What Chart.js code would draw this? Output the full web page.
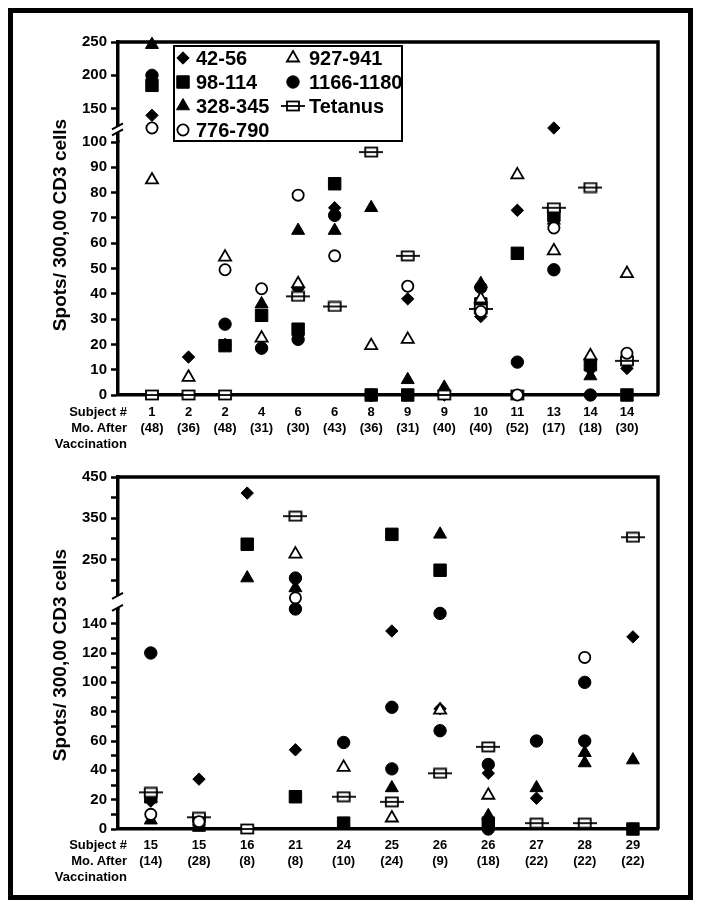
<!DOCTYPE html>
<html lang="en">
<head>
<meta charset="UTF-8" />
<title>Spots per 300,000 CD3 cells</title>
<script src="https://cdn.jsdelivr.net/npm/chart.js"></script>
<style>
  body { margin: 0; background: #fff; }
  #page { position: relative; width: 703px; height: 909px; font-family: "Liberation Sans", Arial, sans-serif; font-weight: bold; color: #000; }
  canvas.plot { position: absolute; left: 0; }
  .frame { position: absolute; left: 8px; top: 8px; width: 685px; height: 892px; border: 5px solid #000; box-sizing: border-box; pointer-events: none; }
  .ytitle { position: absolute; left: 60px; font-size: 19px; white-space: nowrap; transform: translate(-50%, -50%) rotate(-90deg); }
  .rowlab { position: absolute; right: 576px; font-size: 13px; line-height: 16px; text-align: right; white-space: nowrap; }
  .legend { position: absolute; left: 173px; top: 45px; width: 230px; height: 97px; border: 2px solid #000; box-sizing: border-box; }
  .lgtext { position: absolute; font-size: 20px; line-height: 24px; white-space: nowrap; }
  .lgmark { position: absolute; }
</style>
</head>
<body>
<div id="page">
  <canvas id="chartTop" class="plot" width="703" height="455" style="top:0; width:703px; height:455px;"></canvas>
  <canvas id="chartBot" class="plot" width="703" height="455" style="top:445px; width:703px; height:455px;"></canvas>

  <div class="ytitle" style="top:225px;">Spots/ 300,00 CD3 cells</div>
  <div class="ytitle" style="top:655px;">Spots/ 300,00 CD3 cells</div>

  <div class="rowlab" style="top:404px;">Subject #<br>Mo. After<br>Vaccination</div>
  <div class="rowlab" style="top:837px;">Subject #<br>Mo. After<br>Vaccination</div>

  <div class="legend"></div>
  <div id="legendItems"></div>

  <div class="frame"></div>
</div>

<script>
  // ---------- upper panel ----------
  const subjTop   = ['1', '2', '2', '4', '6', '6', '8', '9', '9', '10', '11', '13', '14', '14'];
  const monthsTop = ['48', '36', '48', '31', '30', '43', '36', '31', '40', '40', '52', '17', '18', '30'];
  const top42_56     = [140, 15,   20,   null, 42,  74,   null, 38,   0,    31,   73,   121,  10,   10.5];
  const top98_114    = [185, null, 19.5, 31.5, 26,  83.5, 0,    0,    null, 36,   56,   71,   12,   0];
  const top328_345   = [246, null, null, 36,   65,  65,   74,   6,    3,    44,   null, 69,   7.5,  null];
  const top776_790   = [121, null, 49.5, 42,   79,  55,   null, 43,   null, 33,   0,    66,   null, 16.5];
  const top927_941   = [85,  7,    54.5, 22.5, 44,  null, 19.5, 22,   null, 38,   87,   57,   15.5, 48];
  const top1166_1180 = [200, null, 28,   18.5, 22,  71,   0,    null, null, 42.5, 13,   49.5, 0,    null];
  const topTetanus   = [0,   0,    0,    null, 39,  35,   96,   55,   0,    34,   0,    74,   82,   13.5];

  // ---------- lower panel ----------
  const subjBot   = ['15', '15', '16', '21', '24', '25', '26', '26', '27', '28', '29'];
  const monthsBot = ['14', '28', '8', '8', '10', '24', '9', '18', '22', '22', '22'];
  const bot42_56     = [19,   34,   411,  54,   null, 135,  82,   38,   21,   null, 131];
  const bot98_114    = [22,   null, 287,  22,   4,    311,  224,  4,    null, null, 0];
  const bot328_345   = [6,    1,    205,  181,  null, 28,   311,  9,    28,   52,   47];
  const bot776_790   = [10,   5,    null, 157,  null, null, null, null, null, 117,  null];
  const bot927_941   = [null, null, null, 263,  42,   7.5,  81,   23,   null, null, null];
  const bot1166_1180 = [120,  3,    null, 205,  59,   83,   147,  44,   60,   100,  null];
  const botTetanus   = [25,   8,    0,    355,  22,   18.5, 38,   56,   4,    4,    304];
  // second filled circle / filled triangle seen in some columns (not in the legend)
  const botCircle2   = [null, null, null, 150,  null, 41,   67,   0,    null, 60,   null];
  const botTriangle2 = [null, null, null, null, null, null, null, null, null, 45,   null];

  const FONT = '"Liberation Sans", Arial, sans-serif';

  // open square with a bar through it, used for Tetanus
  const tetanusMark = document.createElement('canvas');
  tetanusMark.width = 24;
  tetanusMark.height = 12;
  (function () {
    const c = tetanusMark.getContext('2d');
    c.fillStyle = '#fff';
    c.fillRect(6, 1.5, 12, 9);
    c.strokeStyle = '#000';
    c.lineWidth = 1.8;
    c.strokeRect(6, 1.5, 12, 9);
    c.beginPath();
    c.moveTo(0, 6);
    c.lineTo(24, 6);
    c.stroke();
  })();

  const marks = {
    '42-56':     { style: 'rectRot',  r: 6.2, fill: '#000', bw: 1,   order: 6 },
    '98-114':    { style: 'rect',     r: 8.8, fill: '#000', bw: 1,   order: 5 },
    '328-345':   { style: 'triangle', r: 7.5, fill: '#000', bw: 1,   order: 4 },
    '776-790':   { style: 'circle',   r: 5.6, fill: '#fff', bw: 1.8, order: 0 },
    '927-941':   { style: 'triangle', r: 7,   fill: '#fff', bw: 1.8, order: 2 },
    '1166-1180': { style: 'circle',   r: 6.2, fill: '#000', bw: 1,   order: 3 },
    'Tetanus':   { style: tetanusMark, r: 8,  fill: '#fff', bw: 0,   order: 1 }
  };

  const topSeries = [
    ['42-56', top42_56], ['98-114', top98_114], ['328-345', top328_345], ['776-790', top776_790],
    ['927-941', top927_941], ['1166-1180', top1166_1180], ['Tetanus', topTetanus]
  ];
  const botSeries = [
    ['42-56', bot42_56], ['98-114', bot98_114], ['328-345', bot328_345], ['776-790', bot776_790],
    ['927-941', bot927_941], ['1166-1180', bot1166_1180], ['Tetanus', botTetanus],
    ['1166-1180', botCircle2], ['328-345', botTriangle2]
  ];

  // values above the break go on the upper part of the y axis
  function buildSets(series, brk) {
    const sets = [];
    series.forEach(([key, vals]) => {
      const m = marks[key];
      const lo = [], hi = [];
      vals.forEach((v, i) => {
        if (v === null) return;
        (v > brk ? hi : lo).push({ x: i + 1, y: v });
      });
      [['yLo', lo], ['yHi', hi]].forEach(([axis, pts]) => {
        if (!pts.length) return;
        sets.push({
          label: key, data: pts, yAxisID: axis, order: m.order,
          pointStyle: m.style, pointRadius: m.r, pointHoverRadius: m.r,
          pointBackgroundColor: m.fill, pointBorderColor: '#000', pointBorderWidth: m.bw,
          showLine: false, clip: false
        });
      });
    });
    return sets;
  }

  function yScale(min, max, weight, tickVals, showLabel) {
    return {
      type: 'linear', position: 'left', stack: 'left', stackWeight: weight, min: min, max: max,
      afterBuildTicks: s => { s.ticks = tickVals.map(v => ({ value: v })); },
      afterFit: s => { s.width = 118; },
      ticks: {
        color: '#000', padding: 4, autoSkip: false,
        font: { family: FONT, size: 15, weight: 'bold' },
        callback: v => (showLabel(v) ? String(v) : '')
      },
      grid: { drawOnChartArea: false, drawTicks: true, tickLength: 7, tickWidth: 2.5, tickColor: '#000', color: '#000' },
      border: { display: true, width: 3.5, color: '#000' }
    };
  }

  const framePlugin = {
    id: 'plotFrame',
    beforeDatasetsDraw(chart) {
      const { ctx, chartArea: a } = chart;
      ctx.save();
      ctx.strokeStyle = '#000';
      ctx.lineWidth = 3.5;
      ctx.beginPath();
      ctx.moveTo(a.left, a.top);
      ctx.lineTo(a.right, a.top);
      ctx.lineTo(a.right, a.bottom);
      ctx.stroke();
      ctx.restore();
    }
  };

  const breakPlugin = {
    id: 'axisBreak',
    afterDraw(chart, args, opts) {
      const s = chart.scales.yHi;
      const ctx = chart.ctx;
      const x = s.right;
      const y = s.getPixelForValue(opts.value);
      const g = opts.gap / 2;
      ctx.save();
      ctx.fillStyle = '#fff';
      ctx.fillRect(x - 4, y - g, 8, 2 * g);
      ctx.strokeStyle = '#000';
      ctx.lineWidth = 2;
      ctx.beginPath();
      ctx.moveTo(x - 6, y - g + 3); ctx.lineTo(x + 5, y - g - 3);
      ctx.moveTo(x - 6, y + g + 3); ctx.lineTo(x + 5, y + g - 3);
      ctx.stroke();
      ctx.restore();
    }
  };

  function makeChart(id, p) {
    return new Chart(document.getElementById(id), {
      type: 'scatter',
      data: { datasets: buildSets(p.series, p.brk) },
      plugins: [framePlugin, breakPlugin],
      options: {
        responsive: false,
        animation: false,
        events: [],
        layout: { padding: { top: p.padTop, right: 45, left: 0, bottom: 0 } },
        plugins: {
          legend: { display: false },
          tooltip: { enabled: false },
          axisBreak: { value: p.breakAt, gap: p.gap }
        },
        scales: {
          x: {
            type: 'linear', min: p.xMin, max: p.xMax,
            afterBuildTicks: s => { s.ticks = p.subj.map((_, i) => ({ value: i + 1 })); },
            afterFit: s => { s.height = p.xHeight; },
            ticks: {
              color: '#000', padding: p.labelPad, maxRotation: 0, autoSkip: false,
              font: { family: FONT, size: 13, weight: 'bold', lineHeight: 16 / 13 },
              callback: v => {
                const i = Math.round(v) - 1;
                return [p.subj[i], '(' + p.months[i] + ')'];
              }
            },
            grid: { display: true, drawOnChartArea: false, drawTicks: false },
            border: { display: true, width: 3.5, color: '#000' }
          },
          yLo: p.yLo,
          yHi: p.yHi
        }
      }
    });
  }

  const range = (a, b, step) => { const r = []; for (let v = a; v <= b; v += step) r.push(v); return r; };

  makeChart('chartTop', {
    series: topSeries, subj: subjTop, months: monthsTop, brk: 100,
    xMin: 0.07, xMax: 14.85, padTop: 42, xHeight: 60, labelPad: 9,
    breakAt: 119, gap: 6,
    yLo: yScale(0, 100, 253, range(0, 100, 10), () => true),
    yHi: yScale(100, 250, 100, [150, 200, 250], () => true)
  });

  makeChart('chartBot', {
    series: botSeries, subj: subjBot, months: monthsBot, brk: 150,
    xMin: 0.32, xMax: 11.52, padTop: 32, xHeight: 71, labelPad: 8,
    breakAt: 147, gap: 12,
    yLo: yScale(0, 150, 220, range(0, 140, 10), v => v % 20 === 0),
    yHi: yScale(130, 450, 132, range(200, 450, 50), v => v === 250 || v === 350 || v === 450)
  });

  // legend (upper panel only)
  const legendEntries = [
    ['42-56', 0, 0], ['98-114', 0, 1], ['328-345', 0, 2], ['776-790', 0, 3],
    ['927-941', 1, 0], ['1166-1180', 1, 1], ['Tetanus', 1, 2]
  ];
  const legendBox = document.getElementById('legendItems');
  legendEntries.forEach(([key, col, row]) => {
    const cy = 58 + row * 24;
    const mx = col === 0 ? 183 : 293;
    const tx = col === 0 ? 196 : 309;
    const cv = document.createElement('canvas');
    cv.width = 28; cv.height = 22;
    cv.className = 'lgmark';
    cv.style.left = (mx - 14) + 'px';
    cv.style.top = (cy - 11) + 'px';
    const m = marks[key];
    const c = cv.getContext('2d');
    c.fillStyle = m.fill;
    c.strokeStyle = '#000';
    c.lineWidth = m.bw;
    if (Chart.helpers && Chart.helpers.drawPoint) {
      Chart.helpers.drawPoint(c, { pointStyle: m.style, radius: m.r, rotation: 0, borderWidth: m.bw }, 14, 11);
    }
    legendBox.appendChild(cv);
    const t = document.createElement('div');
    t.className = 'lgtext';
    t.textContent = key;
    t.style.left = tx + 'px';
    t.style.top = (cy - 12) + 'px';
    legendBox.appendChild(t);
  });
</script>
</body>
</html>
